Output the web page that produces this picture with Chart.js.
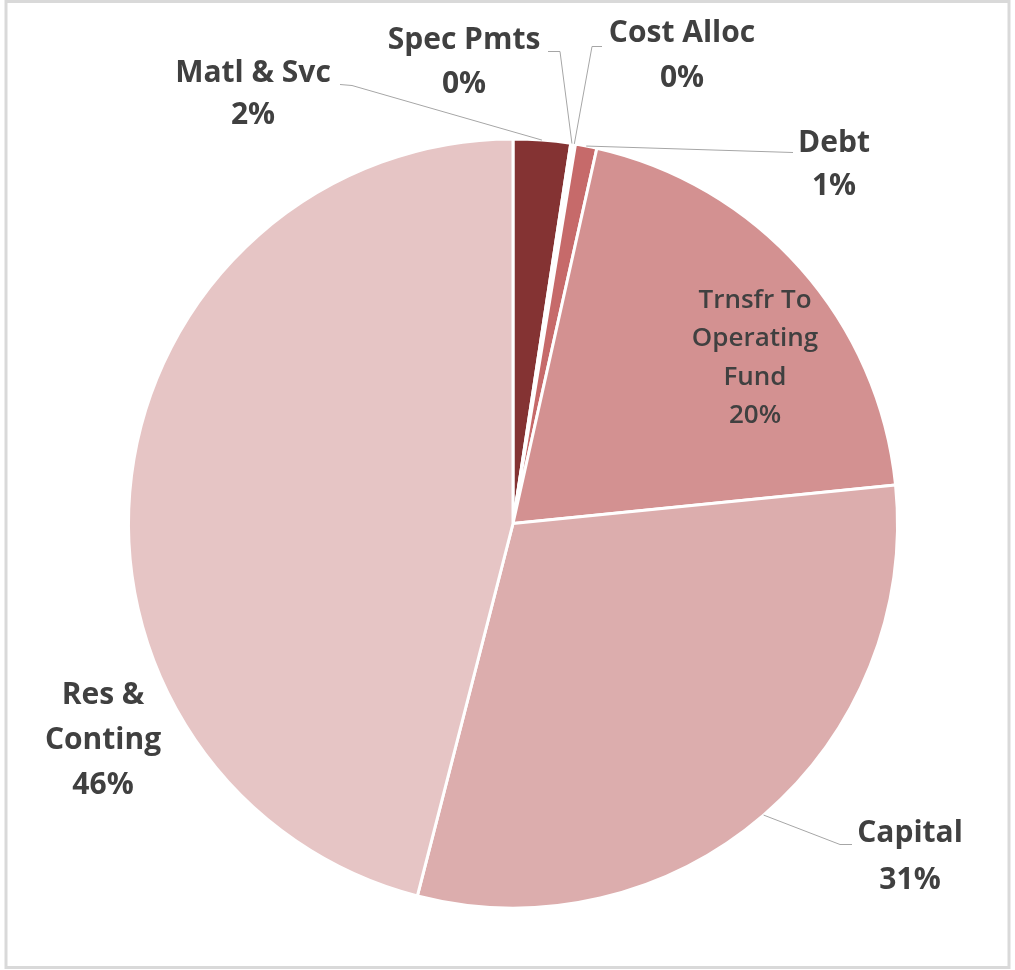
<!DOCTYPE html>
<html lang="en">
<head>
    <meta charset="UTF-8">
    <title>Fund Expenditures Pie</title>
    <script src="https://cdn.jsdelivr.net/npm/chart.js@4.4.1/dist/chart.umd.min.js"></script>
    <style>
      html, body { margin: 0; padding: 0; background: #fff; }
      #wrap { position: relative; width: 1015px; height: 970px; }
    </style>
</head>
<body>
    <div id="wrap"><canvas id="chartPie"></canvas></div>
    <script>
      // data
      const categories = ['Matl & Svc', 'Spec Pmts', 'Cost Alloc', 'Debt', ['Trnsfr To', 'Operating', 'Fund'], 'Capital', ['Res &', 'Conting']];
      const shares = [2.4, 0.1, 0.1, 0.9, 19.9, 30.6, 46.0];
      const sliceColors = ['#843333', '#b85a5a', '#be6262', '#c66a6a', '#d39191', '#dcadad', '#e6c5c5'];

      // label placement, offsets from pie centre (px)
      const labelLayout = [
        { dx: -260, dy: -450, lh: 42, leader: [[-173, -439], [-161, -438]] },
        { dx: -49, dy: -483, lh: 44, leader: [[35, -472], [47, -472]] },
        { dx: 169, dy: -490, lh: 45, leader: [[89, -477], [79, -477]] },
        { dx: 321, dy: -380, lh: 43, leader: [[280, -371]] },
        { dx: 242, dy: -223, lh: 38.5, inside: true },
        { dx: 397, dy: 310, lh: 47, leader: [[339, 321], [327, 321]] },
        { dx: -410, dy: 172, lh: 45 }
      ];

      const labelPlugin = {
        id: 'pieLabels',
        beforeDraw(chart) {
          const c = chart.ctx;
          c.save();
          c.strokeStyle = '#d9d9d9';
          c.lineWidth = 3;
          c.strokeRect(6, 1.5, 1003, 966);
          c.restore();
        },
        afterDatasetsDraw(chart) {
          const c = chart.ctx;
          const meta = chart.getDatasetMeta(0);
          const total = shares.reduce((a, b) => a + b, 0);
          meta.data.forEach((arc, i) => {
            const lay = labelLayout[i];
            const cx = arc.x, cy = arc.y;
            const mid = (arc.startAngle + arc.endAngle) / 2;
            const r = arc.outerRadius;
            if (lay.leader) {
              c.save();
              c.strokeStyle = '#a6a6a6';
              c.lineWidth = 1;
              c.beginPath();
              c.moveTo(cx + lay.leader[0][0], cy + lay.leader[0][1]);
              for (let k = 1; k < lay.leader.length; k++) {
                c.lineTo(cx + lay.leader[k][0], cy + lay.leader[k][1]);
              }
              c.lineTo(cx + Math.cos(mid) * r, cy + Math.sin(mid) * r);
              c.stroke();
              c.restore();
            }
            const name = categories[i];
            const lines = (Array.isArray(name) ? name.slice() : [name]);
            lines.push(Math.round(shares[i] / total * 100) + '%');
            c.save();
            c.fillStyle = '#404040';
            c.textAlign = 'center';
            c.textBaseline = 'middle';
            c.font = lay.inside ? '600 26px "Open Sans"' : 'bold 30px "Open Sans"';
            lines.forEach((t, j) => {
              c.fillText(t, cx + lay.dx, cy + lay.dy + j * lay.lh);
            });
            c.restore();
          });
        }
      };

      const ctx = document.getElementById('chartPie').getContext('2d');
      const chartPie = new Chart(ctx, {
        type: 'pie',
        data: {
          labels: categories,
          datasets: [{
            data: shares,
            backgroundColor: sliceColors,
            borderColor: '#ffffff',
            borderWidth: 3
          }]
        },
        options: {
          responsive: true,
          maintainAspectRatio: false,
          animation: false,
          layout: {
            padding: { left: 127, right: 116, top: 137, bottom: 60 }
          },
          plugins: {
            legend: { display: false },
            tooltip: { enabled: false }
          }
        },
        plugins: [labelPlugin]
      });
    </script>
</body>
</html>
